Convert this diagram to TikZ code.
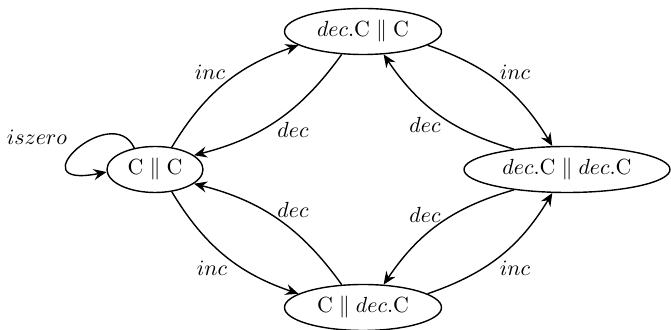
\documentclass[tikz,border=0pt,11pt]{standalone}
\usetikzlibrary{arrows.meta,shapes.geometric}
\tikzset{
  state/.style={draw, ellipse, line width=0.7pt, inner sep=0pt, minimum height=23pt},
  trans/.style={draw, line width=0.7pt, -{Stealth[length=6.5pt,width=5.5pt,inset=2.2pt]}},
  lbl/.style={inner sep=0pt}
}
\begin{document}
\begin{tikzpicture}[x=0.5pt,y=0.5pt]
\useasboundingbox (0,0) rectangle (671,-330);
\node[state, minimum width=48pt]  (A) at (155,-169.5) {$\mathrm{C} \parallel \mathrm{C}$};
\node[state, minimum width=78.5pt] (B) at (363,-31.5) {$dec.\mathrm{C} \parallel \mathrm{C}$};
\node[state, minimum width=103pt] (D) at (567,-169.5) {$dec.\mathrm{C} \parallel dec.\mathrm{C}$};
\node[state, minimum width=78.5pt] (E) at (363,-307.5) {$\mathrm{C} \parallel dec.\mathrm{C}$};

\draw[trans] (A.53) to[bend left=20] (B.192);
\draw[trans] (B.227) to[bend left=20] (A.20);
\draw[trans] (B.348) to[bend left=20] (D.122);
\draw[trans] (D.159) to[bend left=20] (B.312);
\draw[trans] (D.201) to[bend right=20] (E.48);
\draw[trans] (E.12) to[bend right=20] (D.238);
\draw[trans] (A.307) to[bend right=20] (E.168);
\draw[trans] (E.133) to[bend right=20] (A.340);
\draw[trans] (A.134) .. controls (112,-100) and (15,-190) .. (A.183);

\node[lbl] (l1) at (210,-72) {$inc$};
\node[lbl] (l2) at (293,-130) {$dec$};
\node[lbl] (l3) at (515,-72) {$inc$};
\node[lbl] (l4) at (425,-125) {$dec$};
\node[lbl] (l5) at (425,-215) {$dec$};
\node[lbl] (l6) at (515,-268) {$inc$};
\node[lbl] (l7) at (212,-268) {$inc$};
\node[lbl] (l8) at (293,-210) {$dec$};
\node[lbl] (l9) at (37,-137) {$iszero$};
\end{tikzpicture}
\end{document}
